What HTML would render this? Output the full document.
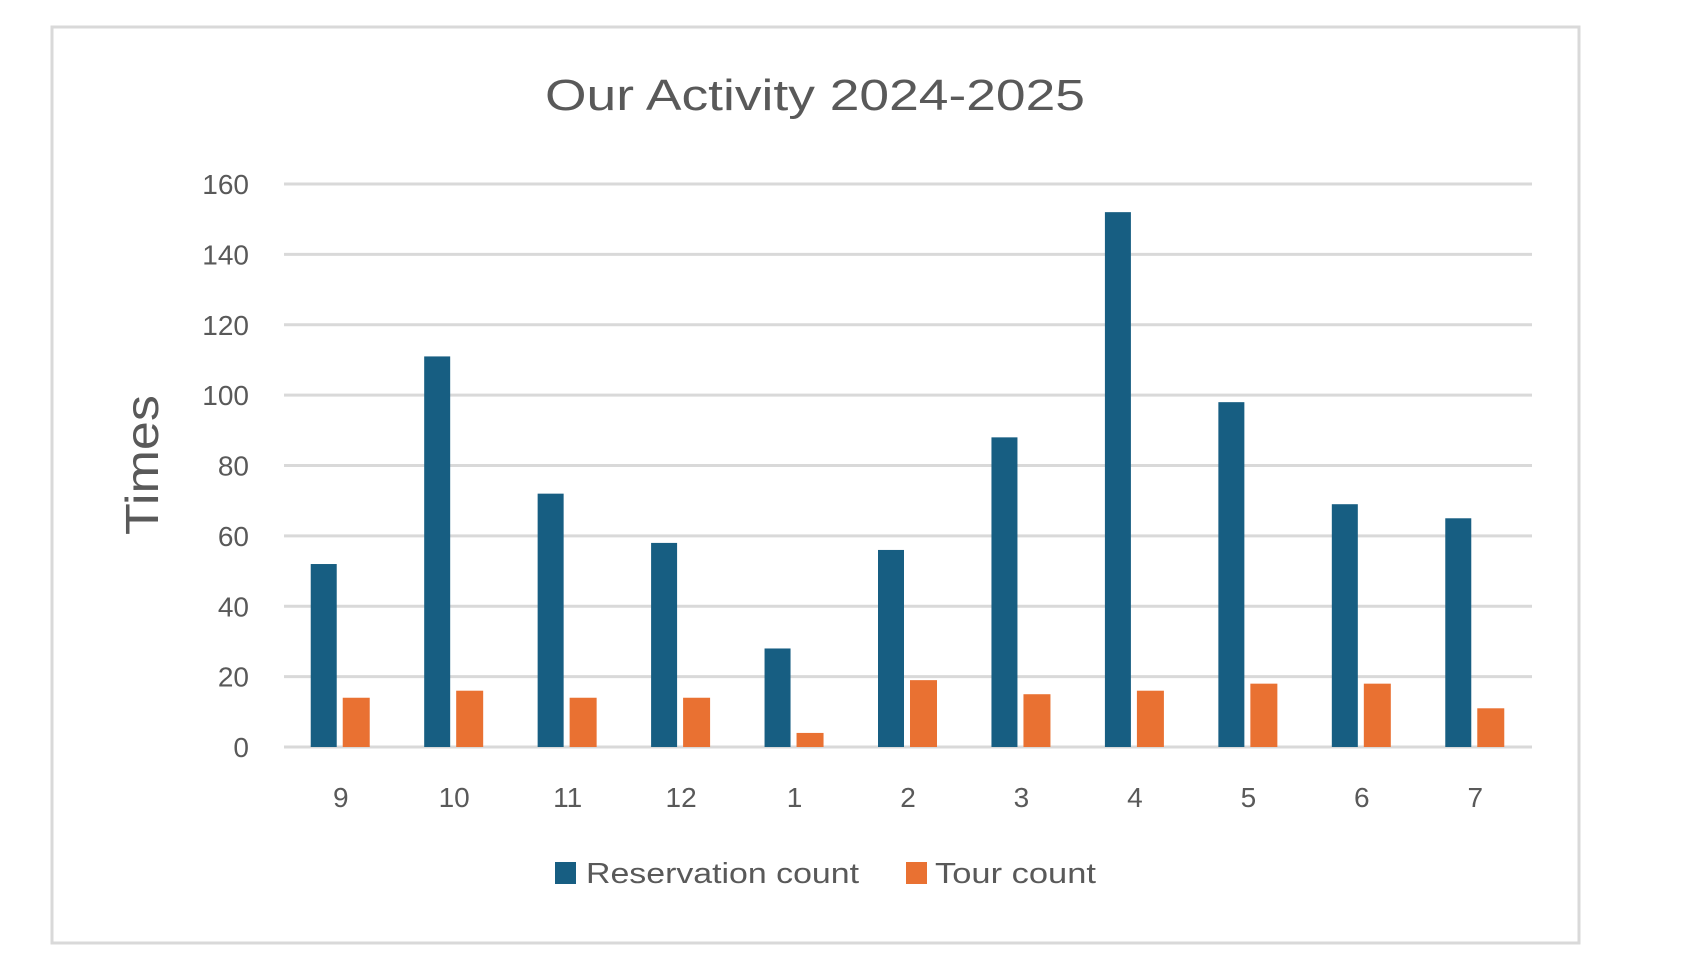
<!DOCTYPE html>
<html><head><meta charset="utf-8"><style>
body{margin:0;background:#fff;width:1707px;height:960px;overflow:hidden;}
svg{display:block;font-family:"Liberation Sans",sans-serif;}
</style></head><body>
<svg id="chart" width="1707" height="960" viewBox="0 0 1707 960">
<rect x="52" y="27" width="1527" height="916" fill="#fff" stroke="#d9d9d9" stroke-width="3"/>
<text x="815" y="110" text-anchor="middle" font-size="44" fill="#595959" textLength="540" lengthAdjust="spacingAndGlyphs">Our Activity 2024-2025</text>
<text transform="translate(158,465) rotate(-90)" text-anchor="middle" font-size="46" fill="#595959" textLength="140" lengthAdjust="spacingAndGlyphs">Times</text>
<g id="grid"></g><g id="bars"></g><g id="labels"></g>
<g>
<rect x="555" y="862" width="21" height="22" fill="#175e82"/>
<text x="586" y="883" font-size="29" fill="#595959" textLength="273" lengthAdjust="spacingAndGlyphs">Reservation count</text>
<rect x="906" y="862" width="21" height="22" fill="#e97132"/>
<text x="935" y="883" font-size="29" fill="#595959" textLength="161" lengthAdjust="spacingAndGlyphs">Tour count</text>
</g>
</svg>
<script>
const categories = ["9","10","11","12","1","2","3","4","5","6","7"];
const reservationCounts = [52,111,72,58,28,56,88,152,98,69,65];
const tourCounts = [14,16,14,14,4,19,15,16,18,18,11];
const yTicks = [0,20,40,60,80,100,120,140,160];
const NS="http://www.w3.org/2000/svg";
const x0=284,x1=1532,yTop=184,yBot=747,yMax=160;
const band=(x1-x0)/categories.length;
function y(v){return yBot-(v/yMax)*(yBot-yTop);}
function xc(i){return x0+band*(i+0.5);}
function mk(tag,attrs,parent){const e=document.createElementNS(NS,tag);for(const k in attrs)e.setAttribute(k,attrs[k]);parent.appendChild(e);return e;}
const grid=document.getElementById('grid'),bars=document.getElementById('bars'),labels=document.getElementById('labels');
yTicks.forEach(t=>{
  const l=mk('line',{x1:x0,x2:x1,y1:y(t),y2:y(t),stroke:'#d9d9d9','stroke-width':3},grid);
  
  
  const tx=mk('text',{x:249,y:y(t)+10,'text-anchor':'end','font-size':28,fill:'#595959'},labels);
  tx.textContent=t;
  
  
});
categories.forEach((c,i)=>{
  const cx=xc(i);
  const b=mk('rect',{x:cx-30,y:y(reservationCounts[i]),width:26,height:yBot-y(reservationCounts[i]),fill:'#175e82'},bars);
  
  
  const o=mk('rect',{x:cx+2,y:y(tourCounts[i]),width:27,height:yBot-y(tourCounts[i]),fill:'#e97132'},bars);
  
  
  const tx=mk('text',{x:cx,y:807,'text-anchor':'middle','font-size':28,fill:'#595959'},labels);
  tx.textContent=c;
  
  
});
</script>
</body></html>
